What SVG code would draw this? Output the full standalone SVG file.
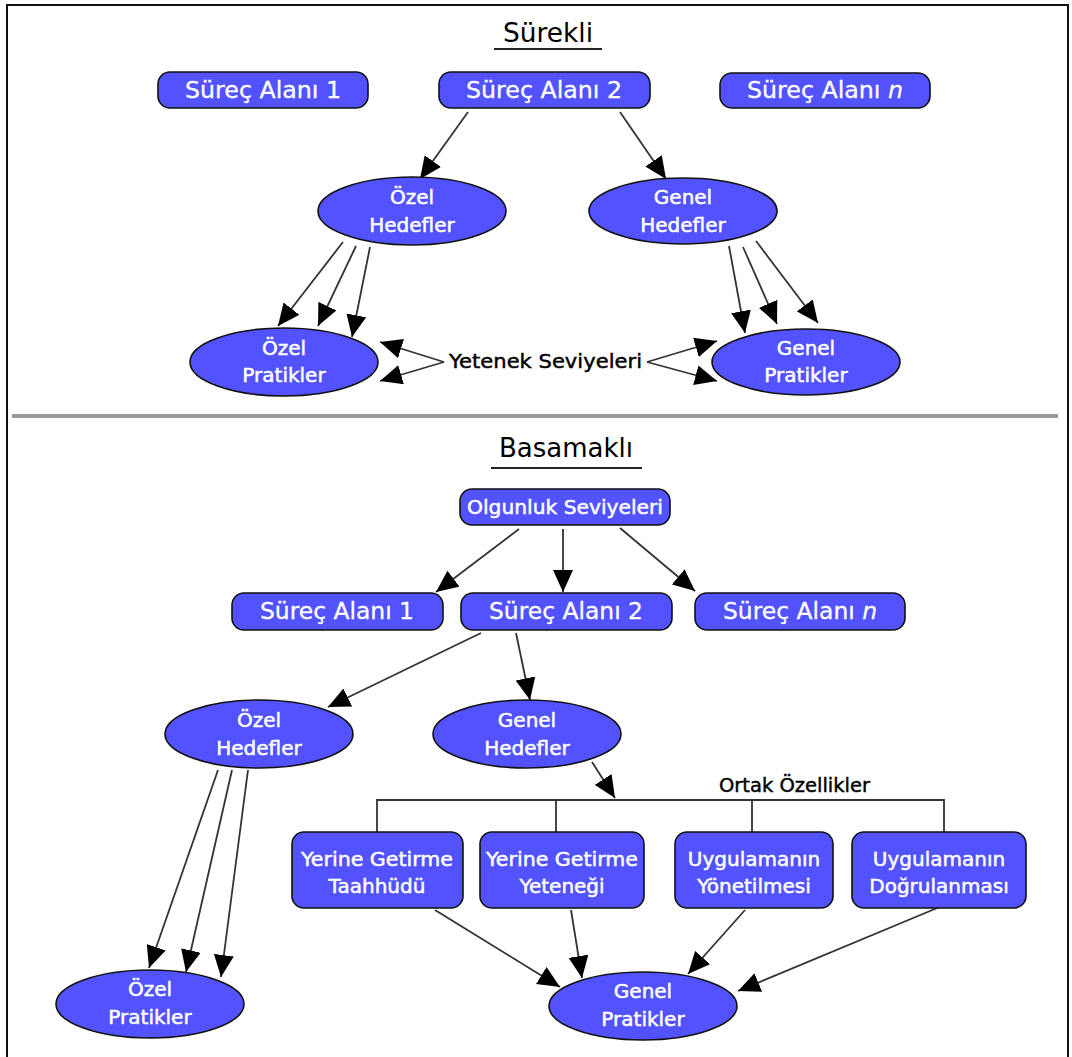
<svg xmlns="http://www.w3.org/2000/svg" width="1072" height="1057" viewBox="0 0 1072 1057">
  <style>
    .box { fill: #5252ff; stroke: #111; stroke-width: 1.6; }
    .ell { fill: #5252ff; stroke: #111; stroke-width: 1.6; }
    .lbl { font-family: "DejaVu Sans", Verdana, sans-serif; fill: #fff; stroke: #fff; stroke-width: 0.5; font-size: 20px; text-anchor: middle; }
    .big { font-size: 23px; stroke-width: 0.3; }
    .note { font-family: "DejaVu Sans", Verdana, sans-serif; fill: #000; stroke: #000; stroke-width: 0.45; font-size: 20px; }
    .title { font-family: "DejaVu Sans", Verdana, sans-serif; fill: #000; font-size: 26px; text-anchor: middle; }
    .edge { stroke: #333; stroke-width: 1.8; fill: none; marker-end: url(#head); }
    .plain { stroke: #333; stroke-width: 1.8; fill: none; }
  </style>
  <defs>
    <marker id="head" markerUnits="userSpaceOnUse" markerWidth="22" markerHeight="20" refX="22" refY="10" orient="auto">
      <path d="M0,0 L22,10 L0,20 z" fill="#000"/>
    </marker>
  </defs>

  <rect x="0" y="0" width="1072" height="1057" fill="#fff"/>
  <!-- outer frame -->
  <rect x="7" y="5" width="1061" height="1070" fill="none" stroke="#111" stroke-width="2"/>
  <!-- divider between the two representations -->
  <line x1="12" y1="416" x2="1058" y2="416" stroke="#999" stroke-width="4"/>

  <!-- section titles -->
  <g id="title-continuous">
    <text class="title" x="548" y="42" textLength="90" lengthAdjust="spacingAndGlyphs">Sürekli</text>
    <line x1="494" y1="49" x2="602" y2="49" stroke="#222" stroke-width="2"/>
  </g>
  <g id="title-staged">
    <text class="title" x="566" y="457" textLength="134" lengthAdjust="spacingAndGlyphs">Basamaklı</text>
    <line x1="491" y1="468" x2="642" y2="468" stroke="#222" stroke-width="2"/>
  </g>

  <!-- connectors -->
  <g id="connectors">
    <!-- continuous -->
    <line class="edge" x1="468" y1="112" x2="420" y2="179"/>
    <line class="edge" x1="620" y1="112" x2="666" y2="179"/>
    <line class="edge" x1="343" y1="242" x2="278" y2="326"/>
    <line class="edge" x1="356" y1="246" x2="318" y2="326"/>
    <line class="edge" x1="370" y1="247" x2="352" y2="337"/>
    <line class="edge" x1="729" y1="246" x2="745" y2="333"/>
    <line class="edge" x1="743" y1="247" x2="777" y2="324"/>
    <line class="edge" x1="756" y1="241" x2="818" y2="323"/>
    <line class="edge" x1="444" y1="362" x2="380" y2="342"/>
    <line class="edge" x1="444" y1="362" x2="380" y2="381"/>
    <line class="edge" x1="647" y1="362" x2="717" y2="341"/>
    <line class="edge" x1="647" y1="362" x2="717" y2="381"/>
    <!-- staged -->
    <line class="edge" x1="519" y1="529" x2="436" y2="592"/>
    <line class="edge" x1="563" y1="529" x2="563" y2="592"/>
    <line class="edge" x1="620" y1="528" x2="695" y2="591"/>
    <line class="edge" x1="481" y1="633" x2="328" y2="707"/>
    <line class="edge" x1="516" y1="633" x2="530" y2="700"/>
    <line class="edge" x1="592" y1="762" x2="615" y2="798"/>
    <line class="edge" x1="218" y1="770" x2="149" y2="968"/>
    <line class="edge" x1="232" y1="770" x2="186" y2="972"/>
    <line class="edge" x1="248" y1="770" x2="221" y2="977"/>
    <line class="edge" x1="435" y1="910" x2="560" y2="987"/>
    <line class="edge" x1="571" y1="910" x2="582" y2="978"/>
    <line class="edge" x1="745" y1="910" x2="688" y2="974"/>
    <line class="edge" x1="942" y1="906" x2="738" y2="991"/>
    <!-- common features bracket -->
    <polyline class="plain" points="377,832 377,800 944,800 944,832"/>
    <line class="plain" x1="556" y1="800" x2="556" y2="832"/>
    <line class="plain" x1="752" y1="800" x2="752" y2="832"/>
  </g>

  <!-- free labels -->
  <text id="capability-levels" class="note" x="449" y="368" textLength="193" lengthAdjust="spacingAndGlyphs">Yetenek Seviyeleri</text>
  <text id="common-features" class="note" x="719" y="792" textLength="151" lengthAdjust="spacingAndGlyphs">Ortak Özellikler</text>

  <!-- continuous representation nodes -->
  <g id="c-pa1">
    <rect class="box" x="158" y="72" width="210" height="36" rx="12"/>
    <text class="lbl big" x="263" y="98" textLength="156" lengthAdjust="spacingAndGlyphs">Süreç Alanı 1</text>
  </g>
  <g id="c-pa2">
    <rect class="box" x="439" y="72" width="211" height="36" rx="12"/>
    <text class="lbl big" x="544" y="98" textLength="156" lengthAdjust="spacingAndGlyphs">Süreç Alanı 2</text>
  </g>
  <g id="c-pan">
    <rect class="box" x="720" y="73" width="210" height="35" rx="12"/>
    <text class="lbl big" x="825" y="98" textLength="156" lengthAdjust="spacingAndGlyphs">Süreç Alanı <tspan font-style="italic">n</tspan></text>
  </g>
  <g id="c-sg">
    <ellipse class="ell" cx="412" cy="211" rx="94" ry="34"/>
    <text class="lbl" x="412" y="204">Özel</text>
    <text class="lbl" x="412" y="232">Hedefler</text>
  </g>
  <g id="c-gg">
    <ellipse class="ell" cx="683" cy="211" rx="94" ry="33"/>
    <text class="lbl" x="683" y="204">Genel</text>
    <text class="lbl" x="683" y="232">Hedefler</text>
  </g>
  <g id="c-sp">
    <ellipse class="ell" cx="284" cy="362" rx="94" ry="34"/>
    <text class="lbl" x="284" y="355">Özel</text>
    <text class="lbl" x="284" y="382">Pratikler</text>
  </g>
  <g id="c-gp">
    <ellipse class="ell" cx="806" cy="362" rx="94" ry="33"/>
    <text class="lbl" x="806" y="355">Genel</text>
    <text class="lbl" x="806" y="382">Pratikler</text>
  </g>

  <!-- staged representation nodes -->
  <g id="s-ml">
    <rect class="box" x="460" y="489" width="210" height="36" rx="12"/>
    <text class="lbl" x="565" y="514" textLength="196" lengthAdjust="spacingAndGlyphs">Olgunluk Seviyeleri</text>
  </g>
  <g id="s-pa1">
    <rect class="box" x="232" y="593" width="211" height="37" rx="12"/>
    <text class="lbl big" x="337" y="619" textLength="154" lengthAdjust="spacingAndGlyphs">Süreç Alanı 1</text>
  </g>
  <g id="s-pa2">
    <rect class="box" x="461" y="593" width="211" height="37" rx="12"/>
    <text class="lbl big" x="566" y="619" textLength="154" lengthAdjust="spacingAndGlyphs">Süreç Alanı 2</text>
  </g>
  <g id="s-pan">
    <rect class="box" x="695" y="593" width="210" height="37" rx="12"/>
    <text class="lbl big" x="800" y="619" textLength="154" lengthAdjust="spacingAndGlyphs">Süreç Alanı <tspan font-style="italic">n</tspan></text>
  </g>
  <g id="s-sg">
    <ellipse class="ell" cx="259" cy="734" rx="94" ry="34"/>
    <text class="lbl" x="259" y="727">Özel</text>
    <text class="lbl" x="259" y="755">Hedefler</text>
  </g>
  <g id="s-gg">
    <ellipse class="ell" cx="527" cy="734" rx="94" ry="34"/>
    <text class="lbl" x="527" y="727">Genel</text>
    <text class="lbl" x="527" y="755">Hedefler</text>
  </g>
  <g id="s-cp">
    <rect class="box" x="292" y="832" width="171" height="76" rx="12"/>
    <text class="lbl" x="377" y="866" textLength="152" lengthAdjust="spacingAndGlyphs">Yerine Getirme</text>
    <text class="lbl" x="377" y="893">Taahhüdü</text>
  </g>
  <g id="s-ap">
    <rect class="box" x="480" y="832" width="164" height="76" rx="12"/>
    <text class="lbl" x="562" y="866" textLength="152" lengthAdjust="spacingAndGlyphs">Yerine Getirme</text>
    <text class="lbl" x="562" y="893">Yeteneği</text>
  </g>
  <g id="s-di">
    <rect class="box" x="675" y="832" width="158" height="76" rx="12"/>
    <text class="lbl" x="754" y="866">Uygulamanın</text>
    <text class="lbl" x="754" y="893">Yönetilmesi</text>
  </g>
  <g id="s-vi">
    <rect class="box" x="852" y="832" width="174" height="76" rx="12"/>
    <text class="lbl" x="939" y="866">Uygulamanın</text>
    <text class="lbl" x="939" y="893">Doğrulanması</text>
  </g>
  <g id="s-sp">
    <ellipse class="ell" cx="150" cy="1004" rx="94" ry="34"/>
    <text class="lbl" x="150" y="996">Özel</text>
    <text class="lbl" x="150" y="1024">Pratikler</text>
  </g>
  <g id="s-gp">
    <ellipse class="ell" cx="643" cy="1006" rx="94" ry="34"/>
    <text class="lbl" x="643" y="998">Genel</text>
    <text class="lbl" x="643" y="1026">Pratikler</text>
  </g>
</svg>
